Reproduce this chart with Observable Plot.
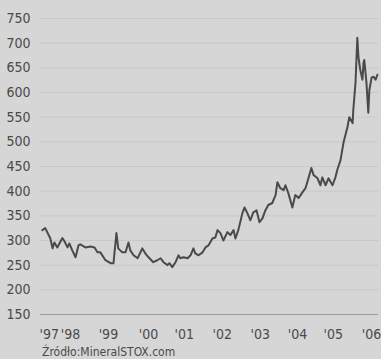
<!DOCTYPE html>
<html>
<head>
<meta charset="utf-8">
<script src="https://cdn.jsdelivr.net/npm/d3@7"></script>
<script src="https://cdn.jsdelivr.net/npm/@observablehq/plot@0.6"></script>
<style>
  html, body { margin: 0; padding: 0; background: #d6d6d6; }
  #chart svg { display: block; }
  .src { font-family: "Liberation Sans Narrow", "DejaVu Sans Condensed", "Arial Narrow", sans-serif; font-size: 12px; color: #4a4a4a; padding-left: 42px; padding-top: 2px; line-height: 17px; margin: 0; }
</style>
</head>
<body>
<div id="chart"></div>
<div class="src">Źródło:MineralSTOX.com</div>
<script>
// Gold price, USD per ounce (decimal year, value)
const years = [1997.73,1997.81,1997.95,1998.01,1998.06,1998.14,1998.28,1998.34,1998.42,1998.47,1998.55,1998.64,1998.72,1998.77,1998.91,1999.05,1999.16,1999.24,1999.32,1999.46,1999.60,1999.68,1999.76,1999.81,1999.92,2000.01,2000.09,2000.14,2000.23,2000.34,2000.47,2000.55,2000.64,2000.77,2000.88,2000.97,2001.05,2001.16,2001.21,2001.29,2001.38,2001.46,2001.51,2001.60,2001.71,2001.79,2001.87,2001.92,2002.01,2002.12,2002.20,2002.28,2002.39,2002.47,2002.53,2002.61,2002.69,2002.80,2002.88,2002.97,2003.02,2003.10,2003.21,2003.27,2003.35,2003.43,2003.51,2003.60,2003.68,2003.76,2003.84,2003.92,2004.03,2004.12,2004.17,2004.25,2004.34,2004.39,2004.47,2004.58,2004.66,2004.75,2004.86,2004.94,2005.02,2005.10,2005.16,2005.27,2005.35,2005.40,2005.49,2005.57,2005.68,2005.76,2005.81,2005.90,2005.98,2006.09,2006.14,2006.23,2006.25,2006.31,2006.36,2006.39,2006.44,2006.50,2006.53,2006.55,2006.61,2006.66,2006.69,2006.75,2006.80,2006.86,2006.91];
const prices = [321,325,304,284,296,286,305,298,286,294,280,266,290,292,286,288,286,276,276,260,254,254,315,284,276,276,296,280,270,264,284,274,266,256,260,264,256,250,254,246,256,270,264,266,264,270,284,274,270,276,286,290,304,306,321,315,300,317,311,321,304,321,355,367,355,341,357,361,337,345,361,372,376,392,418,406,402,412,396,367,392,386,398,406,426,447,433,426,412,428,412,426,412,428,443,463,498,530,550,538,565,620,711,672,646,626,660,666,620,559,605,630,632,626,636];
const yTicks = [150,200,250,300,350,400,450,500,550,600,650,700,750];
const xTickPos = [1997.92,1998.50,1999.54,2000.64,2001.62,2002.66,2003.70,2004.72,2005.70,2006.75];
const xTickLabels = ["'97","'98","'99","'00","'01","'02","'03","'04","'05","'06"];

const data = years.map((t, i) => ({t, p: prices[i]}));
const labelOf = new Map(xTickPos.map((d, i) => [d, xTickLabels[i]]));

const chart = Plot.plot({
  width: 381,
  height: 342,
  marginTop: 18,
  marginBottom: 28,
  marginLeft: 40,
  marginRight: 3,
  x: {domain: [1997.68, 2006.94], axis: null},
  y: {domain: [150, 750], axis: null},
  style: {background: "transparent", fontFamily: "'Liberation Sans Narrow', 'DejaVu Sans Condensed', sans-serif", fontSize: "14px", color: "#4a4a4a"},
  marks: [
    Plot.ruleY(yTicks, {stroke: "#c8c8c8"}),
    Plot.ruleY([150], {stroke: "#9a9a9a"}),
    Plot.axisY(yTicks, {label: null, tickSize: 0, tickPadding: 10, fontSize: 14, fill: "#4a4a4a"}),
    Plot.axisX(xTickPos, {label: null, tickSize: 0, tickPadding: 15, fontSize: 14, fill: "#4a4a4a", tickFormat: d => labelOf.get(d)}),
    Plot.line(data, {x: "t", y: "p", stroke: "#4a4a4a", strokeWidth: 2})
  ]
});
document.getElementById("chart").append(chart);
</script>
</body>
</html>
